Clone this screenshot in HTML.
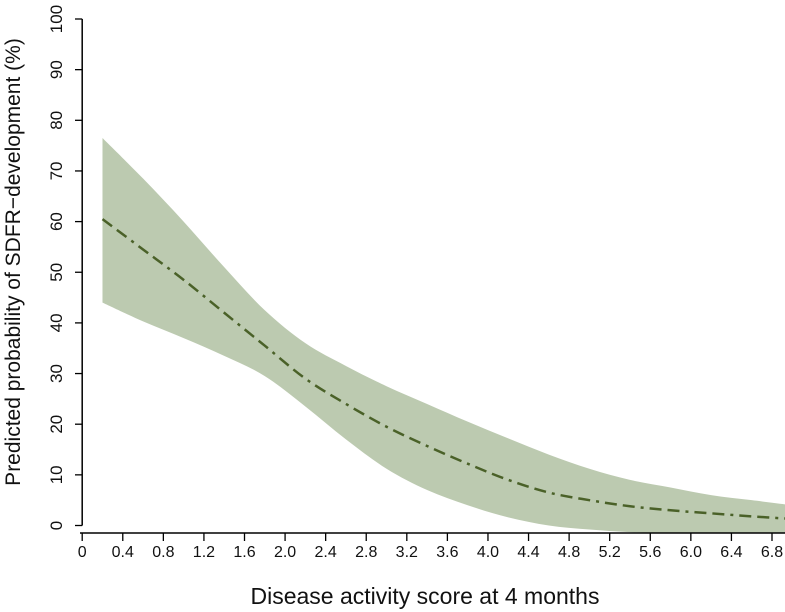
<!DOCTYPE html>
<html><head><meta charset="utf-8"><style>
html,body{margin:0;padding:0;background:#fff;}
svg{display:block;font-family:"Liberation Sans",Arial,sans-serif;}
</style></head><body>
<svg id="chart" width="785" height="612" viewBox="0 0 785 612">
<g id="band"></g>
<g id="line"></g>
<g id="axes"></g>
<text x="425" y="604" font-size="23" text-anchor="middle" fill="#111">Disease activity score at 4 months</text>
<text transform="translate(20,262) rotate(-90)" font-size="21" text-anchor="middle" fill="#111">Predicted probability of SDFR−development (%)</text>
</svg>
<script>
const xs=[0.2,0.6,1.0,1.4,1.8,2.2,2.6,3.0,3.4,3.8,4.2,4.6,5.0,5.4,5.8,6.2,6.6,7.0];
const meanVals=[60.5,54.5,48.5,42,35.5,29,24,19.5,15.7,12.2,9,6.5,5,3.8,3,2.4,1.8,1.3];
const upperVals=[76.5,68.5,60,51,42.5,36,31.5,27.5,24,20.5,17.2,14,11.2,9,7.5,6,5,4];
const lowerVals=[44,40.3,37,33.5,29.5,23.5,17,11.2,7,4,1.6,0,-0.8,-1.3,-1.5,-1.5,-1.5,-1.5];
const xTicks=[0,0.4,0.8,1.2,1.6,2.0,2.4,2.8,3.2,3.6,4.0,4.4,4.8,5.2,5.6,6.0,6.4,6.8];
const yTicks=[0,10,20,30,40,50,60,70,80,90,100];
const NS="http://www.w3.org/2000/svg";
const X=v=>82.2+v*(772-82.2)/6.8;
const Y=v=>525.5-v*(525.5-19)/100;
function mk(t,a,p){const e=document.createElementNS(NS,t);for(const k in a)e.setAttribute(k,a[k]);p.appendChild(e);return e;}
function smooth(pts,start){
 let d=start?('M'+pts[0][0]+','+pts[0][1]):('L'+pts[0][0]+','+pts[0][1]);
 for(let i=0;i<pts.length-1;i++){
  const p0=pts[Math.max(0,i-1)],p1=pts[i],p2=pts[i+1],p3=pts[Math.min(pts.length-1,i+2)];
  const c1=[p1[0]+(p2[0]-p0[0])/6,p1[1]+(p2[1]-p0[1])/6];
  const c2=[p2[0]-(p3[0]-p1[0])/6,p2[1]-(p3[1]-p1[1])/6];
  d+=`C${c1[0]},${c1[1]} ${c2[0]},${c2[1]} ${p2[0]},${p2[1]}`;
 }
 return d;
}
const up=xs.map((x,i)=>[X(x),Y(upperVals[i])]);
const lo=xs.map((x,i)=>[X(x),Y(lowerVals[i])]).reverse();
const band=document.getElementById('band');
const bp=mk('path',{d:smooth(up,true)+smooth(lo,false)+'Z',fill:'#bccab0'},band);


const lg=document.getElementById('line');
const lp=mk('path',{d:smooth(xs.map((x,i)=>[X(x),Y(meanVals[i])]),true),fill:'none',stroke:'#4a6128','stroke-width':2.5,'stroke-dasharray':'12,6,12,6,3,6'},lg);


const ax=document.getElementById('axes');
mk('line',{x1:82.2,y1:Y(0),x2:82.2,y2:Y(100),stroke:'#000','stroke-width':1.5},ax);
mk('line',{x1:80,y1:533,x2:785,y2:533,stroke:'#000','stroke-width':1.5},ax);
yTicks.forEach(v=>{
 mk('line',{x1:75,y1:Y(v),x2:82.2,y2:Y(v),stroke:'#000','stroke-width':1.3},ax);
 const t=mk('text',{transform:`translate(62,${Y(v)}) rotate(-90)`,'font-size':17,'text-anchor':'middle',fill:'#111'},ax);
 
 
 t.textContent=v;
});
xTicks.forEach(v=>{
 mk('line',{x1:X(v),y1:533,x2:X(v),y2:541,stroke:'#000','stroke-width':1.3},ax);
 const t=mk('text',{x:X(v),y:557,'font-size':16,'text-anchor':'middle',fill:'#111'},ax);
 
 
 t.textContent=v===0?'0':v.toFixed(1);
});
</script>
</body></html>
